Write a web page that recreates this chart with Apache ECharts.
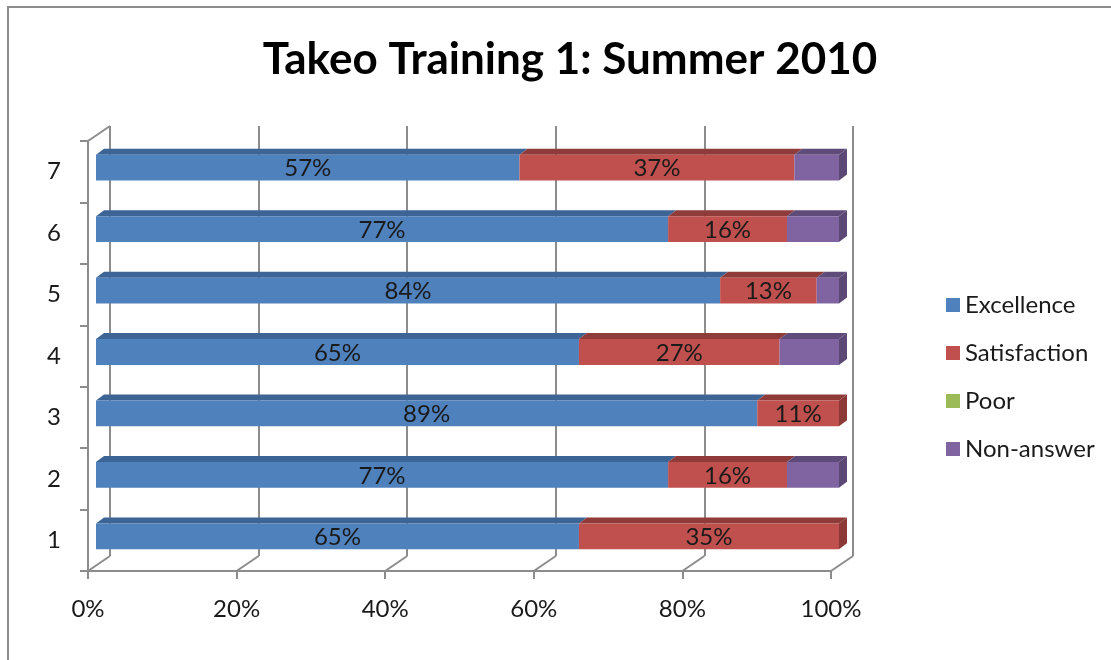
<!DOCTYPE html>
<html>
<head>
<meta charset="utf-8">
<script src="https://cdn.jsdelivr.net/npm/echarts@6/dist/echarts.min.js"></script>
<style>
  html, body { margin: 0; padding: 0; background: #fff; }
  #main { width: 1111px; height: 660px; }
  .frame {
    position: absolute; left: 7px; top: 6px; right: -10px; bottom: -10px;
    border-left: 2px solid #8c8c8c; border-top: 2px solid #8c8c8c;
    pointer-events: none;
  }
</style>
</head>
<body>
<div id="main"></div>
<div class="frame"></div>
<script>
var categories = ["1", "2", "3", "4", "5", "6", "7"];
var excellence = [65, 77, 89, 65, 84, 77, 57];
var satisfaction = [35, 16, 11, 27, 13, 16, 37];
var poor = [0, 0, 0, 0, 0, 0, 0];
var nonAnswer = [0, 7, 0, 8, 3, 7, 6];
var xTicks = [0, 20, 40, 60, 80, 100];

var font = "Lato, 'Open Sans', sans-serif";
var FRONT = [8, -4]; // bar front face shift from the front axis plane
var DEPTH = [8, -6]; // bar depth
var WALL = [22, -15]; // back wall shift

var chartDom = document.getElementById("main");
var myChart = echarts.init(chartDom);

var seriesList = [
  { name: "Excellence", values: excellence, color: "#4F81BD", top: "#3C6494", side: "#385D8A", label: true },
  { name: "Satisfaction", values: satisfaction, color: "#C0504D", top: "#8F3B39", side: "#8C3836", label: true },
  { name: "Poor", values: poor, color: "#9BBB59", top: "#738C42", side: "#6F883F", label: false },
  { name: "Non-answer", values: nonAnswer, color: "#8064A2", top: "#5F4B79", side: "#5C4875", label: false },
];

var running = categories.map(function () { return 0; });

function makeBar(s) {
  var data = categories.map(function (c, i) {
    var start = running[i];
    running[i] = start + s.values[i];
    return [start, running[i], i, s.values[i]];
  });
  return {
    name: s.name,
    type: "custom",
    xAxisIndex: 0,
    yAxisIndex: 0,
    itemStyle: { color: s.color },
    data: data,
    renderItem: function (params, api) {
      var v = api.value(3);
      if (!v) return null;
      var a = api.coord([api.value(0), api.value(2)]);
      var b = api.coord([api.value(1), api.value(2)]);
      var h = api.size([0, 1])[1] * 0.42;
      var x0 = a[0] + FRONT[0];
      var x1 = b[0] + FRONT[0];
      var yc = a[1] + FRONT[1];
      var y0 = yc - h / 2;
      var y1 = yc + h / 2;
      var kids = [
        {
          type: "polygon",
          shape: { points: [[x0, y0], [x1, y0], [x1 + DEPTH[0], y0 + DEPTH[1]], [x0 + DEPTH[0], y0 + DEPTH[1]]] },
          style: { fill: s.top },
        },
        {
          type: "rect",
          shape: { x: x0, y: y0, width: x1 - x0, height: h },
          style: { fill: s.color },
        },
      ];
      if (api.value(1) >= 99.99) {
        kids.push({
          type: "polygon",
          shape: { points: [[x1, y0], [x1 + DEPTH[0], y0 + DEPTH[1]], [x1 + DEPTH[0], y1 + DEPTH[1]], [x1, y1]] },
          style: { fill: s.side },
        });
      }
      if (s.label) {
        kids.push({
          type: "text",
          z2: 10,
          style: {
            text: v + "%",
            x: (x0 + x1) / 2,
            y: yc + 1,
            align: "center",
            verticalAlign: "middle",
            fill: "#1a1a1a",
            font: "24px " + font,
          },
        });
      }
      return { type: "group", children: kids };
    },
  };
}

var bars = seriesList.map(makeBar);

// 3D frame diagonals at the floor ticks and the top-left corner
var frameSeries = {
  type: "custom",
  silent: true,
  legendHoverLink: false,
  xAxisIndex: 0,
  yAxisIndex: 0,
  data: xTicks.map(function (t) { return [t]; }),
  renderItem: function (params, api) {
    var cs = params.coordSys;
    var p = api.coord([api.value(0), 0]);
    var bottom = cs.y + cs.height;
    var kids = [
      {
        type: "line",
        shape: { x1: p[0], y1: bottom, x2: p[0] + WALL[0], y2: bottom + WALL[1] },
        style: { stroke: "#8c8c8c", lineWidth: 2 },
      },
    ];
    if (params.dataIndex === 0) {
      kids.push({
        type: "line",
        shape: { x1: cs.x, y1: cs.y, x2: cs.x + WALL[0], y2: cs.y + WALL[1] },
        style: { stroke: "#8c8c8c", lineWidth: 2 },
      });
    }
    return { type: "group", children: kids };
  },
};

var option = {
  animation: false,
  backgroundColor: "#fff",
  title: {
    text: "Takeo Training 1: Summer 2010",
    left: 565,
    textAlign: "center",
    top: 33,
    textStyle: { fontFamily: font, fontSize: 44, fontWeight: "bold", color: "#000" },
  },
  legend: {
    orient: "vertical",
    left: 941,
    top: 288,
    itemWidth: 14,
    itemHeight: 14,
    itemGap: 24,
    icon: "rect",
    data: seriesList.map(function (s) { return s.name; }),
    textStyle: { fontFamily: font, fontSize: 24, color: "#1a1a1a" },
  },
  grid: [
    { left: 88, right: 280, top: 141, bottom: 89 },
    { left: 88 + WALL[0], right: 280 - WALL[0], top: 141 + WALL[1], bottom: 89 - WALL[1] },
  ],
  xAxis: [
    {
      type: "value",
      gridIndex: 0,
      min: 0,
      max: 100,
      interval: 20,
      splitLine: { show: false },
      axisLine: { show: true, lineStyle: { color: "#8c8c8c", width: 2 } },
      axisTick: { show: true, length: 8, lineStyle: { color: "#8c8c8c", width: 2 } },
      axisLabel: { formatter: "{value}%", margin: 26, fontFamily: font, fontSize: 24, color: "#1a1a1a" },
    },
    {
      type: "value",
      gridIndex: 1,
      min: 0,
      max: 100,
      interval: 20,
      axisLine: { show: false },
      axisTick: { show: false },
      axisLabel: { show: false },
      splitLine: { show: true, lineStyle: { color: "#8c8c8c", width: 2 } },
    },
  ],
  yAxis: [
    {
      type: "category",
      gridIndex: 0,
      data: categories,
      axisLine: { show: true, lineStyle: { color: "#8c8c8c", width: 2 } },
      axisTick: { show: true, length: 8, lineStyle: { color: "#8c8c8c", width: 2 } },
      axisLabel: { margin: 27, fontFamily: font, fontSize: 24, color: "#1a1a1a" },
    },
    {
      type: "category",
      gridIndex: 1,
      data: categories,
      axisLine: { show: false },
      axisTick: { show: false },
      axisLabel: { show: false },
    },
  ],
  series: bars.concat([frameSeries]),
};

option && myChart.setOption(option);
</script>
</body>
</html>
